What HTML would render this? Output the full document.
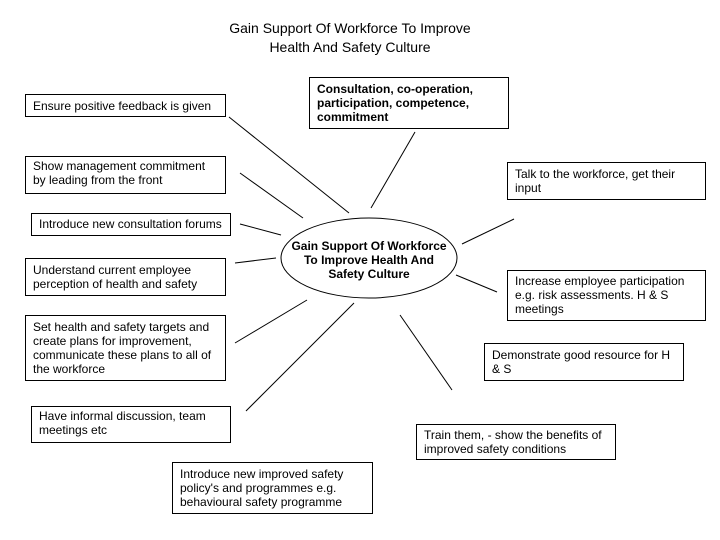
<!DOCTYPE html>
<html><head><style>
body{margin:0;width:720px;height:540px;background:#fff;position:relative;font-family:"Liberation Sans",Arial,sans-serif;overflow:hidden}
.b{position:absolute;border:1px solid #000;box-sizing:border-box;font-size:12px;line-height:14px;padding:2px 0 0 7px;color:#000;background:#fff}
.t{position:absolute;left:150px;width:400px;text-align:center;font-size:14px;line-height:19px;top:19px}
</style></head><body>
<svg width="720" height="540" style="position:absolute;left:0;top:0">
<g stroke="#000" stroke-width="1" fill="none">
<ellipse cx="369" cy="258" rx="88" ry="40"/>
<line x1="229" y1="117" x2="349" y2="213"/>
<line x1="240" y1="173" x2="303" y2="218"/>
<line x1="240" y1="224" x2="281" y2="235"/>
<line x1="235" y1="263" x2="276" y2="258"/>
<line x1="235" y1="343" x2="307" y2="300"/>
<line x1="246" y1="411" x2="354" y2="303"/>
<line x1="400" y1="315" x2="452" y2="390"/>
<line x1="415" y1="132" x2="371" y2="208"/>
<line x1="462" y1="219" x2="514" y2="244" transform="matrix(1 0 0 -1 0 463)"/>
<line x1="456" y1="275" x2="497" y2="292"/>
</g></svg>
<div class="t">Gain Support Of Workforce To Improve<br>Health And Safety Culture</div>
<div class="b" style="left:25px;top:94px;width:201px;height:23px;padding-top:4px">Ensure positive feedback is given</div>
<div class="b" style="left:25px;top:156px;width:201px;height:38px">Show management commitment<br>by leading from the front</div>
<div class="b" style="left:31px;top:213px;width:200px;height:23px;padding-top:3px">Introduce new consultation forums</div>
<div class="b" style="left:25px;top:258px;width:201px;height:38px;padding-top:4px">Understand current employee<br>perception of health and safety</div>
<div class="b" style="left:25px;top:315px;width:201px;height:66px;padding-top:4px">Set health and safety targets and<br>create plans for improvement,<br>communicate these plans to all of<br>the workforce</div>
<div class="b" style="left:31px;top:406px;width:200px;height:37px;padding-top:2px">Have informal discussion, team<br>meetings etc</div>
<div class="b" style="left:172px;top:462px;width:201px;height:52px;padding-top:4px">Introduce new improved safety<br>policy's and programmes e.g.<br>behavioural safety programme</div>
<div class="b" style="left:309px;top:77px;width:200px;height:52px;font-weight:bold;padding-top:4px">Consultation, co-operation,<br>participation, competence,<br>commitment</div>
<div class="b" style="left:507px;top:162px;width:199px;height:38px;padding-top:4px">Talk to the workforce, get their<br>input</div>
<div class="b" style="left:507px;top:270px;width:199px;height:51px;padding-top:3px">Increase employee participation<br>e.g. risk assessments. H &amp; S<br>meetings</div>
<div class="b" style="left:484px;top:343px;width:200px;height:38px;padding-top:4px">Demonstrate good resource for H<br>&amp; S</div>
<div class="b" style="left:416px;top:424px;width:200px;height:36px;padding-top:3px">Train them, - show the benefits of<br>improved safety conditions</div>
<div style="position:absolute;left:281px;top:239px;width:176px;text-align:center;font-size:12px;line-height:14px;font-weight:bold">Gain Support Of Workforce<br>To Improve Health And<br>Safety Culture</div>
</body></html>
